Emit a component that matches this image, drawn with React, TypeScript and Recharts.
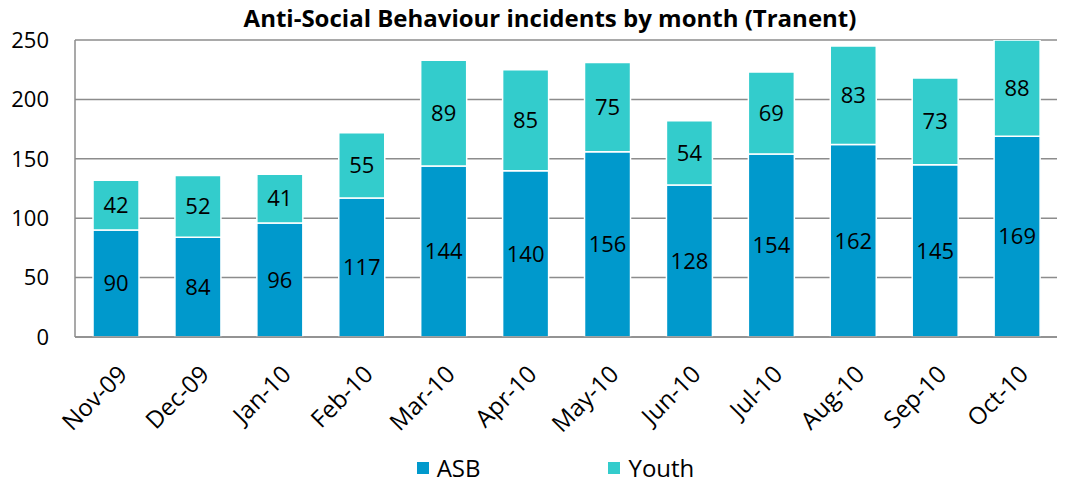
import { Bar, BarChart, CartesianGrid, LabelList, XAxis, YAxis } from "recharts";

const months = ["Nov-09", "Dec-09", "Jan-10", "Feb-10", "Mar-10", "Apr-10", "May-10", "Jun-10", "Jul-10", "Aug-10", "Sep-10", "Oct-10"];
const asb = [90, 84, 96, 117, 144, 140, 156, 128, 154, 162, 145, 169];
const youth = [42, 52, 41, 55, 89, 85, 75, 54, 69, 83, 73, 88];
const yTicks = [0, 50, 100, 150, 200, 250];

const data = months.map((month, i) => ({ month, ASB: asb[i], Youth: youth[i] }));

const FONT = "'Open Sans', sans-serif";
const GRID = "#8c8c8c";
const ASB_COLOR = "#0099cc";
const YOUTH_COLOR = "#33cccc";

function AngledTick({ x, y, payload }: any) {
  return (
    <text
      x={x + 6}
      y={y}
      transform={`rotate(-45 ${x + 6} ${y})`}
      textAnchor="end"
      dominantBaseline="central"
      fontSize={24}
      fontFamily={FONT}
      fill="#000"
    >
      {payload.value}
    </text>
  );
}

function ChartLegend() {
  const items = [
    { name: "ASB", color: ASB_COLOR },
    { name: "Youth", color: YOUTH_COLOR },
  ];
  return (
    <div
      style={{
        position: "absolute",
        top: 455,
        left: 0,
        width: 1065,
        display: "flex",
        justifyContent: "center",
        gap: 128,
        fontFamily: FONT,
        fontSize: 24,
        lineHeight: "26px",
        paddingLeft: 46,
        boxSizing: "border-box",
      }}
    >
      {items.map((it) => (
        <div key={it.name} style={{ display: "flex", alignItems: "center", gap: 8 }}>
          <span style={{ width: 12, height: 12, background: it.color, display: "inline-block" }} />
          <span>{it.name}</span>
        </div>
      ))}
    </div>
  );
}

export default function App() {
  return (
    <div style={{ position: "relative", width: 1065, height: 484, margin: "-8px 0 0 -8px", background: "#fff" }}>
      <div
        style={{
          position: "absolute",
          top: 1,
          left: 0,
          width: 1100,
          textAlign: "center",
          fontFamily: FONT,
          fontWeight: 700,
          fontSize: 24,
          zIndex: 1,
        }}
      >
        Anti-Social Behaviour incidents by month (Tranent)
      </div>
      <BarChart width={1065} height={484} data={data} margin={{ top: 40, right: 7, bottom: 40, left: 0 }} barCategoryGap="22%">
        <CartesianGrid vertical={false} stroke={GRID} strokeWidth={1.5} />
        <XAxis
          dataKey="month"
          interval={0}
          tick={<AngledTick />}
          tickSize={0}
          tickMargin={32}
          height={107}
          axisLine={{ stroke: GRID, strokeWidth: 1.5 }}
        />
        <YAxis
          domain={[0, 250]}
          ticks={yTicks}
          allowDataOverflow
          width={75}
          tickSize={0}
          tickMargin={26}
          tick={{ fontSize: 22, fontFamily: FONT, fill: "#000" }}
          axisLine={{ stroke: GRID, strokeWidth: 1.5 }}
        />
        <Bar dataKey="ASB" stackId="a" fill={ASB_COLOR} stroke="#fff" strokeWidth={1.5} isAnimationActive={false}>
          <LabelList dataKey="ASB" position="center" fill="#000" fontSize={22} fontFamily={FONT} />
        </Bar>
        <Bar dataKey="Youth" stackId="a" fill={YOUTH_COLOR} stroke="#fff" strokeWidth={1.5} isAnimationActive={false}>
          <LabelList dataKey="Youth" position="center" fill="#000" fontSize={22} fontFamily={FONT} />
        </Bar>
      </BarChart>
      <ChartLegend />
    </div>
  );
}
